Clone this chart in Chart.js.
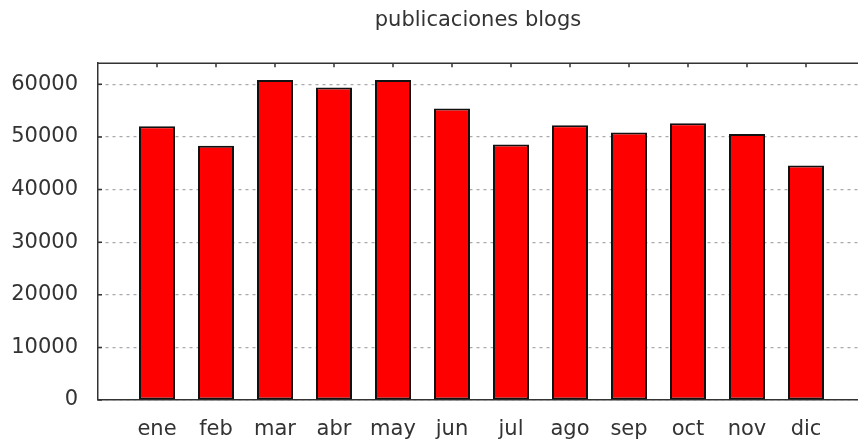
<!DOCTYPE html>
<html>
<head>
<meta charset="utf-8">
<script src="https://cdn.jsdelivr.net/npm/chart.js@4.4.0/dist/chart.umd.min.js"></script>
<style>
  html, body { margin: 0; padding: 0; background: #fff; }
  #wrap { width: 858px; height: 443px; }
</style>
</head>
<body>
<div id="wrap"><canvas id="grafik" width="858" height="443"></canvas></div>
<script>
// === DATA ===
const meses = ['ene', 'feb', 'mar', 'abr', 'may', 'jun', 'jul', 'ago', 'sep', 'oct', 'nov', 'dic'];
const publicaciones = [52000, 48300, 60800, 59400, 60800, 55400, 48550, 52200, 50850, 52600, 50550, 44550];
const yTicks = [0, 10000, 20000, 30000, 40000, 50000, 60000];
const judul = 'publicaciones blogs';

const fuente = 'DejaVu Sans';
const colorTexto = '#333';
const colorEje = '#333';

// gnuplot-style frame: top border + inward tick marks
const marcoPlugin = {
    id: 'marco',
    afterDatasetsDraw(chart) {
        const { ctx, chartArea, scales } = chart;
        ctx.save();
        ctx.strokeStyle = colorEje;
        ctx.lineWidth = 1.5;
        ctx.beginPath();
        ctx.moveTo(chartArea.left, chartArea.top);
        ctx.lineTo(chartArea.right, chartArea.top);
        // ticks on left axis
        yTicks.forEach(v => {
            const y = scales.y.getPixelForValue(v);
            ctx.moveTo(chartArea.left, y);
            ctx.lineTo(chartArea.left + 4, y);
        });
        // ticks on top border
        meses.forEach((m, i) => {
            const x = scales.x.getPixelForValue(i);
            ctx.moveTo(x, chartArea.top);
            ctx.lineTo(x, chartArea.top + 4);
        });
        ctx.stroke();
        ctx.restore();
    }
};

const ctx = document.getElementById('grafik');
new Chart(ctx, {
    type: 'bar',
    data: {
        datasets: [{
            data: publicaciones.map((v, i) => ({ x: i, y: v })),
            backgroundColor: '#ff0000',
            borderColor: '#111',
            borderWidth: 2,
            borderSkipped: false,
            categoryPercentage: 1,
            barPercentage: 0.61
        }]
    },
    options: {
        responsive: false,
        animation: false,
        devicePixelRatio: 1,
        layout: { padding: 0 },
        plugins: {
            legend: { display: false },
            tooltip: { enabled: false },
            title: {
                display: true,
                text: judul,
                fullSize: false,
                color: colorTexto,
                font: { family: fuente, size: 21, weight: 'normal' },
                padding: { top: 8, bottom: 30 }
            }
        },
        scales: {
            x: {
                type: 'linear',
                offset: false,
                min: -1,
                max: -1 + 760 / 59,
                afterFit: (scale) => { scale.height = 43; },
                afterBuildTicks: (scale) => { scale.ticks = meses.map((m, i) => ({ value: i })); },
                grid: { display: false, drawTicks: false, offset: false },
                border: { display: true, color: colorEje, width: 1.5 },
                ticks: {
                    autoSkip: false,
                    maxRotation: 0,
                    padding: 17,
                    color: colorTexto,
                    font: { family: fuente, size: 21 },
                    callback: (v) => meses[v] || ''
                }
            },
            y: {
                min: 0,
                max: 64000,
                afterFit: (scale) => { scale.width = 98; },
                afterBuildTicks: (scale) => { scale.ticks = yTicks.map(v => ({ value: v })); },
                grid: { color: '#aaa', lineWidth: 1.2, drawTicks: false },
                border: { display: true, color: colorEje, width: 1.5, dash: [3, 4] },
                ticks: {
                    padding: 20,
                    color: colorTexto,
                    font: { family: fuente, size: 21 },
                    callback: (v) => String(v)
                }
            }
        }
    },
    plugins: [marcoPlugin]
});
</script>
</body>
</html>
